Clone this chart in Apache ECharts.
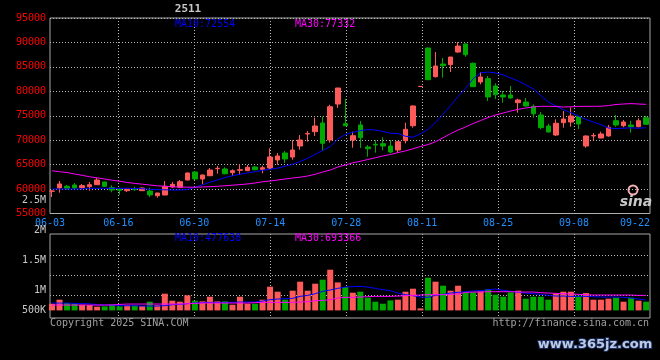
<!DOCTYPE html>
<html><head><meta charset="utf-8">
<script src="https://cdn.jsdelivr.net/npm/echarts@6/dist/echarts.min.js"></script>
<style>html,body{margin:0;padding:0;background:#000;}#c{width:660px;height:360px;}</style>
</head><body><div id="c"></div>
<script>
// ---------- data ----------
const dates = [
 '06-03','06-04','06-05','06-06','06-09','06-10','06-11','06-12','06-13','06-16',
 '06-17','06-18','06-19','06-20','06-23','06-24','06-25','06-26','06-27','06-30',
 '07-01','07-02','07-03','07-04','07-07','07-08','07-09','07-10','07-11','07-14',
 '07-15','07-16','07-17','07-18','07-21','07-22','07-23','07-24','07-25','07-28',
 '07-29','07-30','07-31','08-01','08-04','08-05','08-06','08-07','08-08','08-11',
 '08-12','08-13','08-14','08-15','08-18','08-19','08-20','08-21','08-22','08-25',
 '08-26','08-27','08-28','08-29','09-01','09-02','09-03','09-04','09-05','09-08',
 '09-09','09-10','09-11','09-12','09-15','09-16','09-17','09-18','09-19','09-22'];
const tickLabels = ['06-03','06-16','06-30','07-14','07-28','08-11','08-25','09-08','09-22'];

const opens = [59550,60220,60570,60830,60290,60480,60890,61450,60290,60010,
 59670,60070,59670,59600,58640,58790,60420,60360,61850,63490,
 62060,62730,64170,64110,63350,63840,63760,64510,64040,64310,
 65950,67380,66560,68810,71270,71740,73520,70040,77400,73370,
 70040,73110,68610,69160,69280,68810,67990,69900,72960,81000,
 88860,82990,85590,85450,88040,89680,85730,81910,82580,81090,
 79250,79250,77670,77810,76930,75150,72900,71060,73580,73720,
 74810,68810,70860,70450,70860,73990,72960,73110,72760,74600];
const closes = [59600,61040,60160,60220,60700,60890,61850,60570,59810,59750,
 59950,59870,60220,58790,59190,60570,60970,61510,63290,62060,
 62880,63900,64250,63140,63760,63960,64450,63960,64370,66560,
 66770,66150,67990,70040,71390,72900,69360,76850,80680,72960,
 70920,70510,68260,69020,68810,67580,69690,72230,77000,81000,
 82380,85180,85240,87020,89270,87490,80940,82930,78840,79310,
 78840,78630,78220,77000,75420,72560,71680,73460,74340,74950,
 73310,70860,70960,71270,72640,73110,73720,72760,73990,73250];
const highs = [59800,61650,60830,61240,61040,61450,62260,61500,60770,60220,
 60160,60480,60320,60280,59260,61650,61450,61850,63390,63700,
 62940,64310,64720,64450,64040,65130,64920,64720,64780,68340,
 67380,67790,70040,71060,71880,74600,74810,77260,80680,78430,
 71740,73930,69020,69980,70590,70040,69830,73580,77140,81000,
 88960,88040,86820,87020,90090,89780,85900,83950,83130,81640,
 80060,81090,78490,78630,77340,75770,73370,74270,75970,76690,
 74950,70960,71470,71740,73110,75150,74130,73990,74480,75010];
const lows = [58380,59260,59870,59950,59950,59670,60830,60420,59340,58790,
 59400,59670,59600,58380,58230,58720,60220,60280,61790,61850,
 60970,62670,63140,63010,62670,62880,63700,63840,63230,64040,
 64990,65330,66010,68050,69690,70860,67790,69490,76590,72900,
 68460,68400,66620,67440,67930,67320,67380,69360,72560,81000,
 82310,82830,82790,83950,87900,87080,80880,81430,78020,78430,
 77670,78490,75620,76850,74600,72230,71570,70860,72560,72760,
 72290,68460,69940,70390,70710,72760,72640,71530,72640,73170];

const ma10 = [60010,60010,60010,60010,60050,60150,60150,60150,60150,60150,
 60150,60100,60080,59950,59900,59850,59810,59810,59900,60360,
 60850,61400,61850,62350,62730,63040,63310,63550,63840,64040,
 64270,64680,65070,65660,66290,67090,67950,68690,70240,71160,
 71610,71940,72170,72080,71800,71410,71370,70800,70610,71300,
 72230,73620,75300,77100,78940,80620,82560,83810,83930,83750,
 83360,82720,82110,81330,80470,79120,77810,77020,76240,75620,
 74950,74250,73700,73190,72490,72370,72450,72530,72430,72550];
const ma30 = [63740,63550,63390,63080,62820,62510,62300,62060,61810,61610,
 61340,61160,61000,60830,60670,60570,60460,60420,60380,60380,
 60420,60480,60570,60670,60790,60910,61040,61240,61490,61650,
 61850,62060,62260,62430,62670,63020,63490,63900,64510,64920,
 65370,65680,66050,66400,66770,67070,67460,67810,68240,68710,
 69100,69670,70490,71330,72080,72700,73410,74030,74640,75150,
 75560,75970,76320,76590,76790,76930,76930,76890,76790,76830,
 76910,76930,76930,76950,77080,77300,77400,77490,77400,77330];

const volumes = [335000,535000,368000,335000,285000,268000,185000,202000,285000,202000,
 268000,268000,218000,435000,268000,835000,485000,435000,752000,485000,
 452000,685000,452000,452000,285000,685000,335000,335000,535000,1185000,
 935000,535000,985000,1435000,985000,1335000,1535000,2035000,1400000,1170000,
 885000,935000,635000,435000,335000,500000,535000,935000,1085000,100000,
 1635000,1435000,1235000,985000,1235000,900000,900000,952000,1068000,785000,
 685000,900000,985000,585000,685000,685000,535000,835000,935000,935000,
 735000,868000,535000,535000,585000,635000,435000,635000,485000,435000];
const volMa10 = [368000,368000,368000,352000,335000,335000,285000,268000,268000,235000,
 235000,235000,218000,218000,218000,235000,285000,302000,335000,368000,
 385000,402000,402000,402000,402000,418000,418000,418000,468000,535000,
 568000,585000,602000,702000,752000,835000,952000,1018000,1102000,1168000,
 1185000,1202000,1168000,1102000,1035000,985000,868000,785000,735000,668000,
 652000,752000,802000,868000,902000,935000,968000,985000,1035000,1068000,
 1002000,952000,902000,868000,835000,802000,752000,718000,718000,702000,
 702000,702000,685000,668000,668000,668000,652000,618000,568000,518000];
const volMa30 = [268000,268000,268000,268000,268000,268000,268000,268000,275000,300000,
 318000,318000,318000,318000,318000,318000,318000,318000,335000,352000,
 368000,368000,368000,368000,368000,368000,368000,385000,402000,402000,
 402000,402000,402000,418000,435000,485000,502000,535000,618000,652000,
 652000,668000,685000,702000,702000,702000,718000,735000,752000,768000,
 785000,785000,785000,802000,818000,902000,918000,918000,935000,935000,
 935000,935000,918000,918000,918000,885000,868000,852000,835000,818000,
 802000,785000,768000,768000,768000,768000,768000,768000,752000,752000];

const priceMin = 55000, priceMax = 95000, priceStep = 5000;
const title = '2511';
const priceLegend = ['MA10:72554', 'MA30:77332'];
const volLegend = ['MA10:477638', 'MA30:693366'];
const volTickLabels = ['2.5M', '2M', '1.5M', '1M', '500K'];
const footerLeft = 'Copyright 2025 SINA.COM';
const footerRight = 'http://finance.sina.com.cn';
const watermark = 'www.365jz.com';

// ---------- layout / style ----------
const volLabelY = [200.7, 230, 260.7, 290.7, 310.7];
const RED = '#ff5a5a', GREEN = '#00a800', BLUE = '#0000ff', MAG = '#ff00ff';
const GRIDC = '#b8b8b8', BORDER = '#a8a8a8';
const MONO = '"DejaVu Sans Mono", monospace';
const dotted = {color: GRIDC, width: 1, type: [1, 2]};
const innerTick = (i, v) => { const k = tickLabels.indexOf(dates[i]); return k > 0 && k < tickLabels.length - 1; };
const isTick = (i, v) => tickLabels.indexOf(dates[i]) >= 0;

const candleData = dates.map((d, i) => [opens[i], closes[i], lows[i], highs[i]]);

function txt(x, y, s, fill, align, font, extra) {
  return Object.assign({type: 'text', x: x, y: y, silent: true, z: 100,
    style: Object.assign({text: s, fill: fill, font: font || ('10px ' + MONO),
      textAlign: align || 'left', textVerticalAlign: 'middle',
      align: align || 'left', verticalAlign: 'middle'}, extra || {})});
}

const graphics = [
  txt(188, 9, title, '#c8c8c8', 'center', 'bold 11px ' + MONO),
  txt(175, 24, priceLegend[0], BLUE),
  txt(295, 24, priceLegend[1], MAG),
  txt(175, 238.5, volLegend[0], BLUE),
  txt(295, 238.5, volLegend[1], MAG),
  txt(50, 323.5, footerLeft, '#a0a0a0'),
  txt(649, 323.5, footerRight, '#a0a0a0', 'right'),
  {type: 'circle', shape: {cx: 633, cy: 190, r: 4.5}, silent: true, z: 100,
   style: {fill: 'none', stroke: '#f4b0b0', lineWidth: 2}},
  txt(636, 202, 'sina', '#c8c8c8', 'center', 'italic bold 14px "DejaVu Sans", sans-serif'),
  txt(595, 345, watermark, '#bccbe4', 'center', 'bold 13px "DejaVu Sans", sans-serif',
      {stroke: '#1c2c5c', lineWidth: 2})
];
volTickLabels.forEach((s, k) => graphics.push(txt(46, volLabelY[k], s, '#c8c8c8', 'right')));

const chart = echarts.init(document.getElementById('c'), null, {renderer: 'canvas', width: 660, height: 360});
chart.setOption({
  backgroundColor: '#000',
  animation: false,
  grid: [
    {left: 50, right: 10, top: 18, bottom: 146.5, show: true, borderColor: BORDER, borderWidth: 1, backgroundColor: 'transparent'},
    {left: 48.24, right: 10.16, top: 18, bottom: 146.5},
    {left: 50, right: 10, top: 234, bottom: 42, show: true, borderColor: BORDER, borderWidth: 1, backgroundColor: 'transparent'},
    {left: 50, right: 10, top: 255, bottom: 65},
    {left: 48.24, right: 10.16, top: 234, bottom: 42}
  ],
  xAxis: [
    {gridIndex: 0, type: 'category', data: dates, boundaryGap: false,
     axisLine: {show: false}, axisTick: {show: false},
     axisLabel: {interval: isTick, color: '#1e90ff', fontFamily: MONO, fontSize: 10, margin: 5, alignMaxLabel: 'right'},
     splitLine: {show: true, interval: innerTick, lineStyle: dotted}},
    {gridIndex: 1, type: 'category', data: dates, boundaryGap: true, show: false},
    {gridIndex: 2, type: 'category', data: dates, boundaryGap: false,
     axisLine: {show: false}, axisTick: {show: false}, axisLabel: {show: false},
     splitLine: {show: true, interval: innerTick, lineStyle: dotted}},
    {gridIndex: 3, type: 'category', data: dates, show: false},
    {gridIndex: 4, type: 'category', data: dates, boundaryGap: true, show: false}
  ],
  yAxis: [
    {gridIndex: 0, type: 'value', min: priceMin, max: priceMax, interval: priceStep,
     axisLine: {show: false}, axisTick: {show: false},
     axisLabel: {color: '#ff0000', fontFamily: MONO, fontSize: 10, margin: 4, formatter: v => String(v)},
     splitLine: {show: true, lineStyle: dotted}},
    {gridIndex: 1, type: 'value', min: priceMin, max: priceMax, show: false, splitLine: {show: false}},
    {gridIndex: 2, type: 'value', show: false, splitLine: {show: false}},
    {gridIndex: 3, type: 'value', min: 0, max: 2, interval: 1,
     axisLine: {show: false}, axisTick: {show: false}, axisLabel: {show: false},
     splitLine: {show: true, lineStyle: dotted}},
    {gridIndex: 4, type: 'value', min: -380000, max: 3820000, show: false, splitLine: {show: false}}
  ],
  series: [
    {type: 'candlestick', xAxisIndex: 1, yAxisIndex: 1, data: candleData, barWidth: 5,
     itemStyle: {color: RED, color0: GREEN, borderColor: RED, borderColor0: GREEN, borderColorDoji: RED, borderWidth: 1}},
    {type: 'line', xAxisIndex: 1, yAxisIndex: 1, data: ma10, symbol: 'none', showSymbol: false,
     lineStyle: {color: BLUE, width: 1}, z: 3},
    {type: 'line', xAxisIndex: 1, yAxisIndex: 1, data: ma30, symbol: 'none', showSymbol: false,
     lineStyle: {color: MAG, width: 1}, z: 3},
    {type: 'bar', xAxisIndex: 4, yAxisIndex: 4, data: volumes, barWidth: 6,
     itemStyle: {color: p => closes[p.dataIndex] >= opens[p.dataIndex] ? RED : GREEN}},
    {type: 'line', xAxisIndex: 4, yAxisIndex: 4, data: volMa10, symbol: 'none', showSymbol: false,
     lineStyle: {color: BLUE, width: 1}, z: 3},
    {type: 'line', xAxisIndex: 4, yAxisIndex: 4, data: volMa30, symbol: 'none', showSymbol: false,
     lineStyle: {color: MAG, width: 1}, z: 3}
  ],
  graphic: graphics
});
</script>
</body></html>
